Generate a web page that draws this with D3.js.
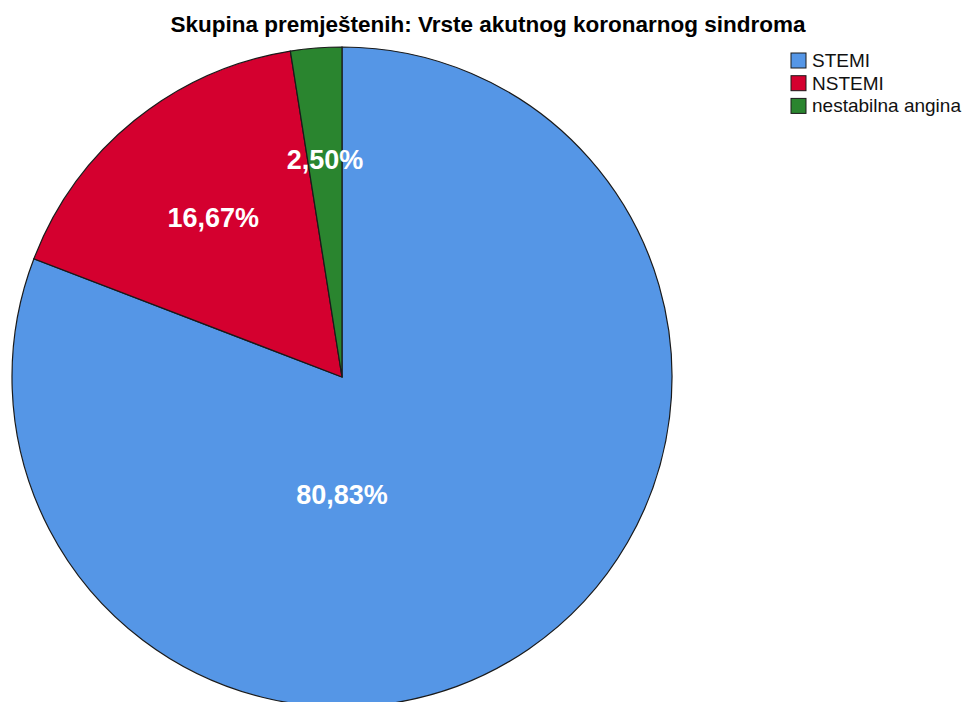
<!DOCTYPE html>
<html>
<head>
<meta charset="utf-8">
<script src="https://cdn.jsdelivr.net/npm/d3@7"></script>
<style>
  body { margin: 0; background: #fff; }
  text { font-family: "Liberation Sans", Arial, sans-serif; }
</style>
</head>
<body>
<div id="chart"></div>
<script>
var categories = ['STEMI', 'NSTEMI', 'nestabilna angina'];
var values = [80.83, 16.67, 2.50];
var labels = ['80,83%', '16,67%', '2,50%'];
var colors = ['#5596e6', '#d4002f', '#2a852f'];

var width = 962, height = 702;
var cx = 342, cy = 377, radius = 330;

var svg = d3.select('#chart').append('svg')
	.attr('width', width)
	.attr('height', height);

svg.append('text')
	.attr('x', 488)
	.attr('y', 32)
	.attr('text-anchor', 'middle')
	.style('font-size', '22.5px')
	.style('font-weight', 'bold')
	.text('Skupina premještenih: Vrste akutnog koronarnog sindroma');

var pie = d3.pie().sort(null).value(function(d) { return d; });
var arcs = pie(values);

var arc = d3.arc().innerRadius(0).outerRadius(radius);

var g = svg.append('g')
	.attr('transform', 'translate(' + cx + ',' + cy + ')');

g.selectAll('path')
	.data(arcs)
	.enter()
	.append('path')
	.attr('d', arc)
	.attr('fill', function(d, i) { return colors[i]; })
	.attr('stroke', '#1a1a1a')
	.attr('stroke-width', 1.2);

// label placement (SPSS style): small slices along their mid angle,
// the big slice straight down from the centre
function labelPos(d, i) {
	if (d.endAngle - d.startAngle > Math.PI) return [0, 118];
	var mid = (d.startAngle + d.endAngle) / 2;
	var r = i === 2 ? radius * 0.66 : radius * 0.62;
	return d3.pointRadial(mid, r);
}

g.selectAll('text.lbl')
	.data(arcs)
	.enter()
	.append('text')
	.attr('class', 'lbl')
	.attr('transform', function(d, i) { return 'translate(' + labelPos(d, i) + ')'; })
	.attr('text-anchor', 'middle')
	.attr('dy', '0.35em')
	.attr('fill', '#fff')
	.style('font-size', '27px')
	.style('font-weight', 'bold')
	.text(function(d, i) { return labels[i]; });

var legend = svg.append('g')
	.attr('transform', 'translate(791,53)');

var item = legend.selectAll('g')
	.data(categories)
	.enter()
	.append('g')
	.attr('transform', function(d, i) { return 'translate(0,' + (i * 22.7) + ')'; });

item.append('rect')
	.attr('width', 15)
	.attr('height', 15)
	.attr('fill', function(d, i) { return colors[i]; })
	.attr('stroke', '#1a1a1a')
	.attr('stroke-width', 1);

item.append('text')
	.attr('x', 21)
	.attr('y', 14)
	.style('font-size', '19px')
	.attr('fill', '#111')
	.text(function(d) { return d; });
</script>
</body>
</html>
